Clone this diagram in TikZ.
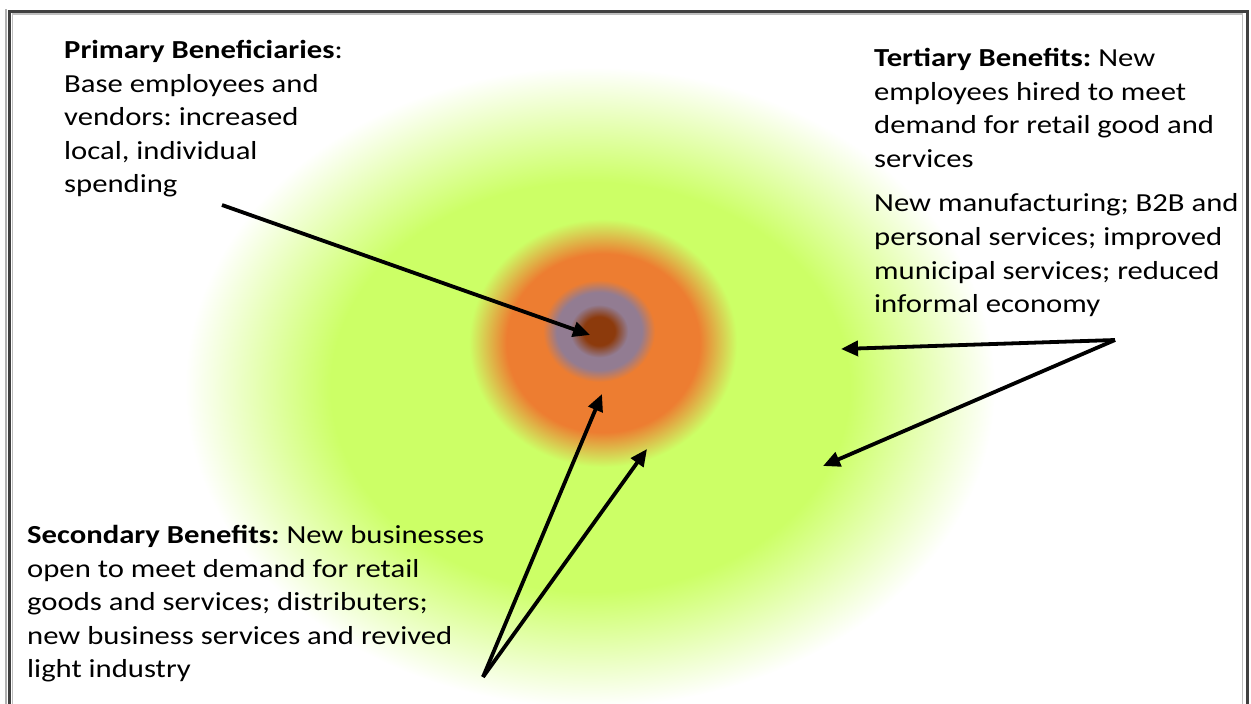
\documentclass[tikz,border=0pt]{standalone}
\usepackage{fontspec}
\setmainfont{Carlito}[FakeStretch=1.18]
\usetikzlibrary{arrows.meta}
\frenchspacing

\definecolor{glowgreen}{RGB}{204,255,102}
\definecolor{gloworange}{RGB}{237,125,49}
\definecolor{glowpurple}{RGB}{146,124,146}
\definecolor{glowbrown}{RGB}{140,58,12}

% Glow layers (path edge sits at 25bp)
\pgfdeclareradialshading{outerglow}{\pgfpointorigin}{color(0bp)=(glowgreen); color(16bp)=(glowgreen); color(25bp)=(white); color(50bp)=(white)}
\pgfdeclareradialshading{middleglow}{\pgfpointorigin}{color(0bp)=(gloworange); color(18bp)=(gloworange); color(25bp)=(glowgreen); color(50bp)=(glowgreen)}
\pgfdeclareradialshading{innerglow}{\pgfpointorigin}{color(0bp)=(glowbrown); color(7bp)=(glowbrown); color(13bp)=(glowpurple); color(19bp)=(glowpurple); color(25bp)=(gloworange); color(50bp)=(gloworange)}

\tikzset{
  blurb/.style={anchor=north west, align=left, inner sep=0pt, font=\fontsize{26}{33.6}\selectfont},
  pointer/.style={-{Triangle[length=17pt, width=15pt]}, line width=3.8pt}
}

\begin{document}
\begin{tikzpicture}[x=1pt, y=-1pt]
    \useasboundingbox (0,0) rectangle (1251,704);
    % Frame
    \draw[line width=1.5pt, black!30] (6,9) -- (6,720);
    \draw[line width=3pt, black!75] (9,11.5) rectangle (1247,720);
    \draw[line width=1.5pt, black!25] (12.5,14) rectangle (1242.5,720);

    % Glow
    \shade[shading=outerglow] (590,387) ellipse [x radius=405, y radius=320];
    \shade[shading=middleglow] (603,343) ellipse [x radius=134, y radius=124];
    \shade[shading=innerglow] (599,331) ellipse [x radius=56, y radius=51];

    % Labels
    \node[blurb] (primary) at (64,40) {\textbf{Primary Beneficiaries}:\\
        Base employees and\\ vendors: increased\\ local, individual\\ spending};
    \node[blurb] (tertiary) at (874,48) {\textbf{Tertiary Benefits:} New\\
        employees hired to meet\\ demand for retail good and\\ services\\[11pt]
        New manufacturing; B2B and\\ personal services; improved\\
        municipal services; reduced\\ informal economy};
    \node[blurb] (secondary) at (27,525) {\textbf{Secondary Benefits:} New businesses\\
        open to meet demand for retail\\ goods and services; distributers;\\
        new business services and revived\\ light industry};

    % Arrow ends
    \coordinate (pfrom) at (222,205);
    \coordinate (pto) at (590,335);
    \coordinate (sfrom) at (483,677);
    \coordinate (sto1) at (602,394);
    \coordinate (sto2) at (647,449);
    \coordinate (tfrom) at (1115,340);
    \coordinate (tto1) at (841,349);
    \coordinate (tto2) at (823,466);

    % Arrows
    \draw[pointer] (pfrom) -- (pto);
    \draw[pointer] (sfrom) -- (sto1);
    \draw[pointer] (sfrom) -- (sto2);
    \draw[pointer] (tfrom) -- (tto1);
    \draw[pointer] (tfrom) -- (tto2);
\end{tikzpicture}
\end{document}
